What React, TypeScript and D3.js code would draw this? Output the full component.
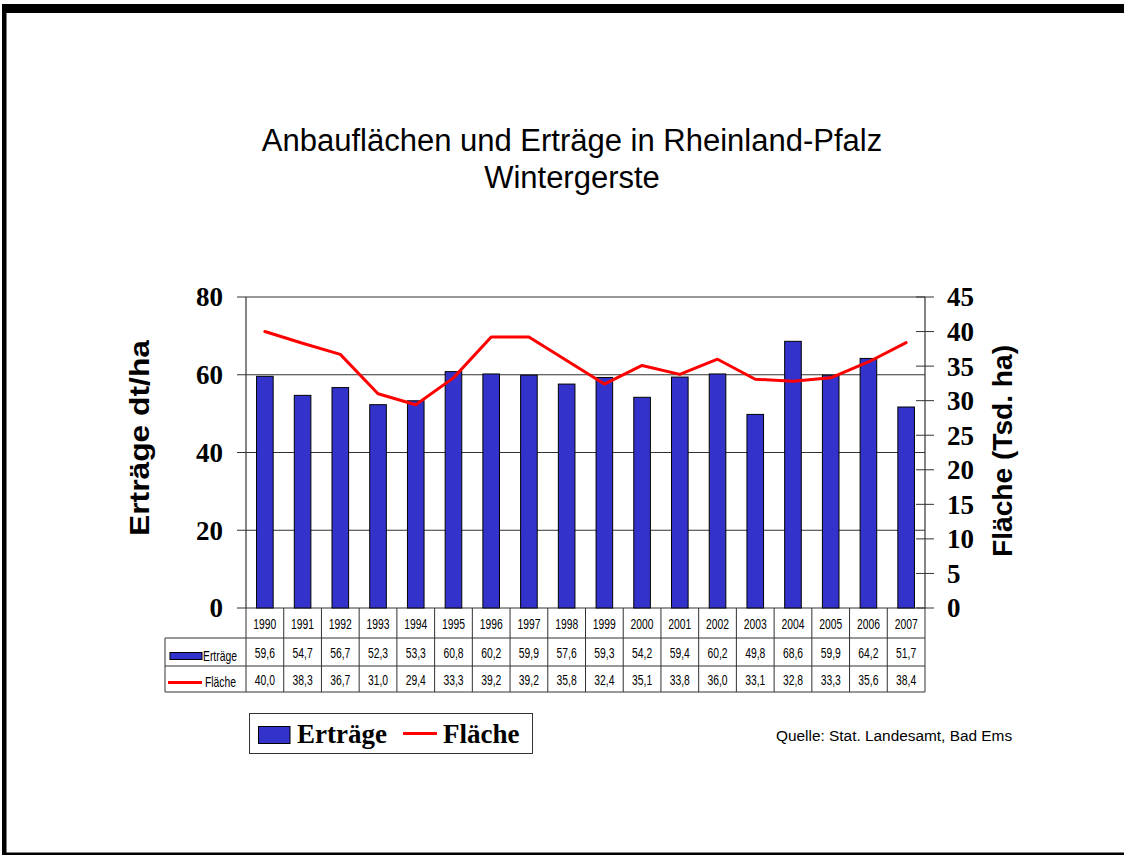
import React from "react";
import * as d3 from "d3";

const years = ["1990","1991","1992","1993","1994","1995","1996","1997","1998","1999","2000","2001","2002","2003","2004","2005","2006","2007"];
const ertraege = [59.6,54.7,56.7,52.3,53.3,60.8,60.2,59.9,57.6,59.3,54.2,59.4,60.2,49.8,68.6,59.9,64.2,51.7];
const flaeche = [40.0,38.3,36.7,31.0,29.4,33.3,39.2,39.2,35.8,32.4,35.1,33.8,36.0,33.1,32.8,33.3,35.6,38.4];
const leftTicks = [0,20,40,60,80];
const rightTicks = [0,5,10,15,20,25,30,35,40,45];
const titleLines = ["Anbauflächen und Erträge in Rheinland-Pfalz", "Wintergerste"];
const seriesNames = ["Erträge", "Fläche"];
const leftAxisTitle = "Erträge dt/ha";
const rightAxisTitle = "Fläche (Tsd. ha)";
const sourceText = "Quelle: Stat. Landesamt, Bad Ems";

const W = 1124, H = 855;
const plotL = 246, plotR = 925, plotT = 297, plotB = 608;
const rowYears = [608, 638];
const rowE = [638, 666];
const rowF = [666, 692];
const tableL = 165;

const barColor = "#3333CC";
const lineColor = "#FF0000";
const gridColor = "#333";

const locale = d3.formatLocale({ decimal: ",", thousands: ".", grouping: [3], currency: ["", "€"] });
const fmt = locale.format(".1f");

const serif = "'Liberation Serif', 'Times New Roman', serif";
const sans = "'Liberation Sans', Arial, sans-serif";

function NarrowText(props: { x: number; y: number; anchor?: string; size?: number; children: React.ReactNode }) {
  const { x, y, anchor = "middle", size = 14, children } = props;
  return (
    <text transform={`translate(${x},${y}) scale(0.74,1)`} dy="0.35em" textAnchor={anchor} fontFamily={sans} fontSize={size} fill="#000">
      {children}
    </text>
  );
}

export default function App() {
  const x = d3.scaleBand<string>().domain(years).range([plotL, plotR]).paddingInner(0).paddingOuter(0);
  const yL = d3.scaleLinear().domain([0, 80]).range([plotB, plotT]);
  const yR = d3.scaleLinear().domain([0, 45]).range([plotB, plotT]);
  const bw = x.bandwidth();
  const barW = bw * 0.44;
  const cx = (y: string) => (x(y) as number) + bw / 2;

  const line = d3.line<number>()
    .x((_, i) => cx(years[i]))
    .y((d) => yR(d))
    .curve(d3.curveLinear);

  const colLines = [...years.map((y) => x(y) as number), plotR];

  return (
    <svg width={W} height={H} style={{ position: "absolute", left: 0, top: 0, background: "#fff" }}>
      <rect x={0} y={0} width={W} height={H} fill="#fff" />
      {/* frame */}
      <rect x={2} y={4} width={W - 2} height={9} fill="#000" />
      <rect x={2} y={4} width={4.5} height={H - 4} fill="#000" />
      <rect x={2} y={852.5} width={W - 2} height={3} fill="#000" />

      {/* title */}
      <text x={572} y={151} textAnchor="middle" fontFamily={sans} fontSize={31} fill="#000">{titleLines[0]}</text>
      <text x={572} y={188} textAnchor="middle" fontFamily={sans} fontSize={31} fill="#000">{titleLines[1]}</text>

      {/* gridlines */}
      {leftTicks.map((t) => (
        <line key={"g" + t} x1={237} x2={plotR} y1={yL(t)} y2={yL(t)} stroke={gridColor} strokeWidth={1} />
      ))}
      {/* left axis */}
      <line x1={plotL} x2={plotL} y1={plotT} y2={plotB} stroke={gridColor} strokeWidth={1.2} />
      {leftTicks.map((t) => (
        <text key={"lt" + t} x={223} y={yL(t)} dy="0.35em" textAnchor="end" fontFamily={serif} fontWeight="bold" fontSize={27} fill="#000">{t}</text>
      ))}
      {/* right axis */}
      <line x1={plotR} x2={plotR} y1={plotT} y2={plotB} stroke={gridColor} strokeWidth={1.2} />
      {rightTicks.map((t) => (
        <g key={"rt" + t}>
          <line x1={916} x2={934} y1={yR(t)} y2={yR(t)} stroke={gridColor} strokeWidth={1} />
          <text x={947} y={yR(t)} dy="0.35em" textAnchor="start" fontFamily={serif} fontWeight="bold" fontSize={27} fill="#000">{t}</text>
        </g>
      ))}

      {/* axis titles */}
      <text transform={`translate(149,438) rotate(-90)`} textAnchor="middle" fontFamily={sans} fontWeight="bold" fontSize={27} textLength={196} lengthAdjust="spacingAndGlyphs" fill="#000">{leftAxisTitle}</text>
      <text transform={`translate(1012,451) rotate(-90)`} textAnchor="middle" fontFamily={sans} fontWeight="bold" fontSize={27} textLength={212} lengthAdjust="spacingAndGlyphs" fill="#000">{rightAxisTitle}</text>

      {/* bars */}
      {ertraege.map((v, i) => (
        <rect key={"b" + i} x={cx(years[i]) - barW / 2} y={yL(v)} width={barW} height={plotB - yL(v)} fill={barColor} stroke="#000" strokeWidth={1} />
      ))}

      {/* line */}
      <path d={line(flaeche) || ""} fill="none" stroke={lineColor} strokeWidth={3} strokeLinejoin="round" strokeLinecap="round" />

      {/* data table */}
      <g stroke={gridColor} strokeWidth={1}>
        {colLines.map((cxl, i) => (
          <line key={"cl" + i} x1={cxl} x2={cxl} y1={rowYears[0]} y2={rowF[1]} />
        ))}
        <line x1={tableL} x2={tableL} y1={rowE[0]} y2={rowF[1]} />
        <line x1={tableL} x2={plotR} y1={rowE[0]} y2={rowE[0]} />
        <line x1={tableL} x2={plotR} y1={rowF[0]} y2={rowF[0]} />
        <line x1={tableL} x2={plotR} y1={rowF[1]} y2={rowF[1]} />
      </g>
      {years.map((y) => (
        <NarrowText key={"y" + y} x={cx(y)} y={(rowYears[0] + rowYears[1]) / 2 + 1}>{y}</NarrowText>
      ))}
      {ertraege.map((v, i) => (
        <NarrowText key={"ev" + i} x={cx(years[i])} y={(rowE[0] + rowE[1]) / 2 + 1}>{fmt(v)}</NarrowText>
      ))}
      {flaeche.map((v, i) => (
        <NarrowText key={"fv" + i} x={cx(years[i])} y={(rowF[0] + rowF[1]) / 2 + 1}>{fmt(v)}</NarrowText>
      ))}
      {/* row headers */}
      <rect x={170} y={652.5} width={32} height={7} fill={barColor} stroke="#000" strokeWidth={1} />
      <NarrowText x={203} y={656} anchor="start" size={14}>{seriesNames[0]}</NarrowText>
      <line x1={168} x2={202} y1={682.5} y2={682.5} stroke={lineColor} strokeWidth={3} />
      <NarrowText x={205} y={682} anchor="start" size={14}>{seriesNames[1]}</NarrowText>

      {/* legend */}
      <rect x={249.5} y={713.5} width={283} height={40} fill="#fff" stroke="#333" strokeWidth={1} />
      <rect x={258.5} y={726.5} width={31.5} height={17} fill={barColor} stroke="#000" strokeWidth={1} />
      <text x={297} y={743} fontFamily={serif} fontWeight="bold" fontSize={27} fill="#000">{seriesNames[0]}</text>
      <line x1={403} x2={437} y1={733.5} y2={733.5} stroke={lineColor} strokeWidth={3} />
      <text x={443} y={743} fontFamily={serif} fontWeight="bold" fontSize={27} fill="#000">{seriesNames[1]}</text>

      {/* source */}
      <text x={776} y={741} fontFamily={sans} fontSize={15.4} fill="#000">{sourceText}</text>
    </svg>
  );
}
